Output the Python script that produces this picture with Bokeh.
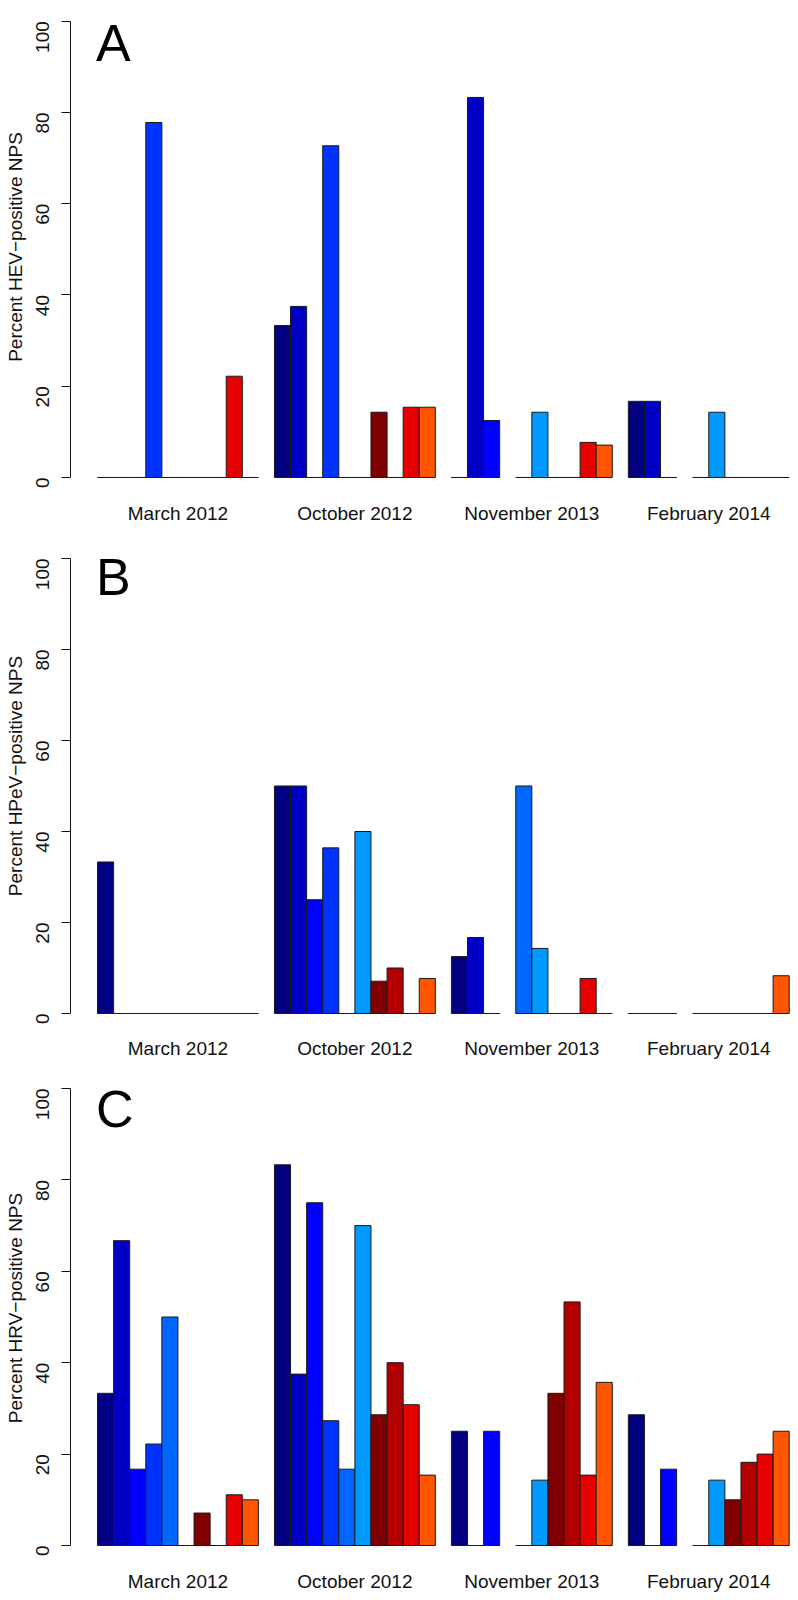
import math
from bokeh.plotting import figure
from bokeh.models import Range1d, FixedTicker, Label, ColumnDataSource
from bokeh.layouts import column
from bokeh.embed import file_html
from bokeh.resources import INLINE

# ---------------- data ----------------
dates = ["March 2012", "October 2012", "November 2013", "February 2014"]
bar_colors = ["#000080", "#0000C4", "#0000FF", "#0033FF", "#0066FF",
              "#0099FF", "#800000", "#B20000", "#E60000", "#FF5500"]

# Panel A: HEV
hev_mar_2012 = [0, 0, 0, 77.8, 0, 0, 0, 0, 22.2, 0]
hev_oct_2012 = [33.3, 37.5, 0, 72.7, 0, 0, 14.3, 0, 15.4, 15.4]
hev_nov_2013_a = [0, 83.3, 12.5]
hev_nov_2013_b = [0, 14.3, 0, 0, 7.7, 7.1]
hev_feb_2014_a = [16.7, 16.7, 0]
hev_feb_2014_b = [0, 14.3, 0, 0, 0, 0]

# Panel B: HPeV
hpev_mar_2012 = [33.3, 0, 0, 0, 0, 0, 0, 0, 0, 0]
hpev_oct_2012 = [50, 50, 25, 36.4, 0, 40, 7.1, 10, 0, 7.7]
hpev_nov_2013_a = [12.5, 16.7, 0]
hpev_nov_2013_b = [50, 14.3, 0, 0, 7.7, 0]
hpev_feb_2014_a = [0, 0, 0]
hpev_feb_2014_b = [0, 0, 0, 0, 0, 8.3]

# Panel C: HRV
hrv_mar_2012 = [33.3, 66.7, 16.7, 22.2, 50, 0, 7.1, 0, 11.1, 10]
hrv_oct_2012 = [83.3, 37.5, 75, 27.3, 16.7, 70, 28.6, 40, 30.8, 15.4]
hrv_nov_2013_a = [25, 0, 25]
hrv_nov_2013_b = [0, 14.3, 33.3, 53.3, 15.4, 35.7]
hrv_feb_2014_a = [28.6, 0, 16.7]
hrv_feb_2014_b = [0, 14.3, 10, 18.2, 20, 25]

y_ticks = [0, 20, 40, 60, 80, 100]

FONT = "Liberation Sans"


def subgroup_colors(vals):
    if len(vals) == 10:
        return bar_colors
    if len(vals) == 3:
        return bar_colors[0:3]
    return bar_colors[4:10]


def make_panel(letter, ylabel, subgroups, height, y_start, y_end,
               border_top, border_bottom, label_standoff, letter_y):
    xs, tops, cols = [], [], []
    starts, ends = [], []
    cursor = 0
    for vals in subgroups:
        cursor += 1
        starts.append(cursor)
        cl = subgroup_colors(vals)
        for i, v in enumerate(vals):
            xs.append(cursor + i + 0.5)
            tops.append(v)
            cols.append(cl[i])
        cursor += len(vals)
        ends.append(cursor)

    centers = [(starts[0] + ends[0]) / 2, (starts[1] + ends[1]) / 2,
               (starts[2] + ends[3]) / 2, (starts[4] + ends[5]) / 2]

    p = figure(width=798, height=height,
               x_range=Range1d(-0.68, cursor + 0.08),
               y_range=Range1d(y_start, y_end),
               output_backend="svg", toolbar_location=None,
               min_border_left=70, min_border_right=8,
               min_border_top=border_top, min_border_bottom=border_bottom)
    p.xgrid.visible = False
    p.ygrid.visible = False
    p.outline_line_color = None
    p.background_fill_color = "white"
    p.border_fill_color = "white"

    src = ColumnDataSource(dict(x=xs, top=tops, color=cols))
    p.vbar(x="x", top="top", bottom=0, width=1, source=src,
           fill_color="color", line_color="#1a1a1a", line_width=1)

    # y axis
    ya = p.yaxis[0]
    ya.ticker = FixedTicker(ticks=y_ticks)
    ya.bounds = (0, 100)
    ya.minor_tick_line_color = None
    ya.major_tick_out = 9
    ya.major_tick_in = 0
    ya.axis_line_color = "#111111"
    ya.major_tick_line_color = "#111111"
    ya.major_label_orientation = math.pi / 2
    ya.major_label_text_font = FONT
    ya.major_label_text_font_size = "19px"
    ya.major_label_text_color = "#111111"
    ya.major_label_standoff = 19
    ya.axis_label = ylabel
    ya.axis_label_text_font = FONT
    ya.axis_label_text_font_size = "19px"
    ya.axis_label_text_font_style = "normal"
    ya.axis_label_text_color = "#111111"
    ya.axis_label_standoff = 1

    # x axis: date labels
    xa = p.xaxis[0]
    xa.ticker = FixedTicker(ticks=centers)
    xa.major_label_overrides = {c: d for c, d in zip(centers, dates)}
    xa.axis_line_color = None
    xa.major_tick_line_color = None
    xa.minor_tick_line_color = None
    xa.major_tick_out = 0
    xa.major_tick_in = 0
    xa.major_label_standoff = label_standoff
    xa.major_label_text_font = FONT
    xa.major_label_text_font_size = "19px"
    xa.major_label_text_color = "#111111"

    p.add_layout(Label(x=0.9, y=letter_y, text=letter, text_font=FONT,
                       text_font_size="52px", text_baseline="alphabetic",
                       text_color="#000000"))
    return p


pa = make_panel("A", "Percent HEV\u2212positive NPS",
                [hev_mar_2012, hev_oct_2012, hev_nov_2013_a, hev_nov_2013_b,
                 hev_feb_2014_a, hev_feb_2014_b],
                530, -0.877, 101.91, 12, 49, 21, 95.3)
pb = make_panel("B", "Percent HPeV\u2212positive NPS",
                [hpev_mar_2012, hpev_oct_2012, hpev_nov_2013_a, hpev_nov_2013_b,
                 hpev_feb_2014_a, hpev_feb_2014_b],
                532, -0.879, 105.27, 4, 45, 20, 95.9)
pc = make_panel("C", "Percent HRV\u2212positive NPS",
                [hrv_mar_2012, hrv_oct_2012, hrv_nov_2013_a, hrv_nov_2013_b,
                 hrv_feb_2014_a, hrv_feb_2014_b],
                538, -0.875, 104.81, 4, 51, 21, 95.6)

layout = column(pa, pb, pc, spacing=0)
open("out.html", "w").write(file_html(layout, INLINE))
